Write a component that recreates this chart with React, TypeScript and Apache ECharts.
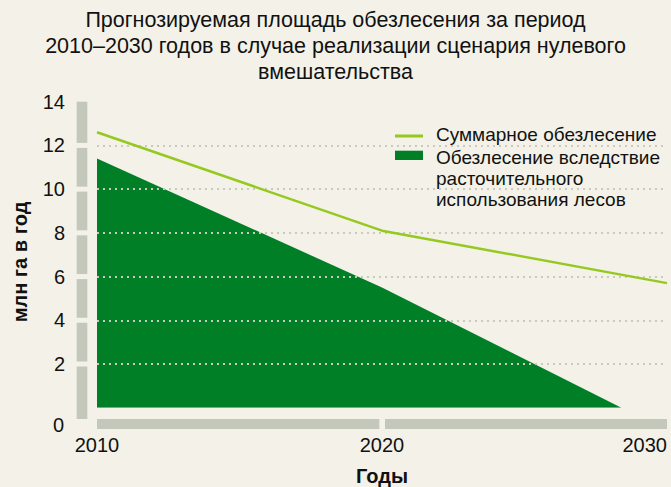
import React, { useEffect, useRef } from 'react';
import * as echarts from 'echarts';

const titleLines = [
  'Прогнозируемая площадь обезлесения за период',
  '2010–2030 годов в случае реализации сценария нулевого',
  'вмешательства',
];
const yAxisName = 'млн га в год';
const xAxisName = 'Годы';
const xTicks = [2010, 2020, 2030];
const yTicks = [0, 2, 4, 6, 8, 10, 12, 14];
const gridValues = [2, 4, 6, 8, 10, 12];
const totalName = 'Суммарное обезлесение';
const totalYears = [2010, 2020, 2030];
const totalValues = [12.6, 8.1, 5.7];
const wastefulName = 'Обезлесение вследствие\nрасточительного\nиспользования лесов';
const wastefulYears = [2010, 2020, 2028.4];
const wastefulValues = [11.4, 5.5, 0];

const BG = '#f3f1e8';
const GREEN = '#007f27';
const LIGHT = '#95c91f';
const BAR = '#c3c8ba';
const TEXT = '#111111';
const FONT = '"Liberation Sans", Arial, sans-serif';

export default function App() {
  const ref = useRef<HTMLDivElement>(null);
  useEffect(() => {
    document.body.style.margin = '0';
    const chart = echarts.init(ref.current!, null, { renderer: 'svg' });
    const option: any = {
      animation: false,
      backgroundColor: BG,
      textStyle: { fontFamily: FONT },
      grid: { left: 97, top: 101.7, width: 570, height: 306, containLabel: false, outerBoundsMode: 'none' },
      xAxis: {
        type: 'value',
        min: 2010,
        max: 2030,
        interval: 10,
        axisLine: { show: false },
        axisTick: { show: false },
        splitLine: { show: false },
        axisLabel: {
          margin: 27,
          fontSize: 20,
          color: TEXT,
          fontFamily: FONT,
          alignMaxLabel: 'right',
          formatter: (v: number) => String(v),
        },
        name: xAxisName,
        nameLocation: 'middle',
        nameGap: 58,
        nameTextStyle: { fontSize: 20, fontWeight: 'bold', color: TEXT, fontFamily: FONT },
      },
      yAxis: {
        type: 'value',
        min: 0,
        max: 14,
        interval: 2,
        axisLine: { show: false },
        axisTick: { show: false },
        splitLine: { show: false },
        axisLabel: {
          margin: 32,
          fontSize: 20,
          color: TEXT,
          fontFamily: FONT,
          formatter: (v: number) => (v === 0 ? '' : String(v)),
        },
      },
      series: [
        {
          name: wastefulName,
          type: 'line',
          data: wastefulYears.map((y, i) => [y, wastefulValues[i]]),
          symbol: 'none',
          lineStyle: { width: 0 },
          areaStyle: { color: GREEN, opacity: 1 },
          z: 2,
        },
        {
          name: totalName,
          type: 'line',
          data: totalYears.map((y, i) => [y, totalValues[i]]),
          symbol: 'none',
          lineStyle: { width: 2.5, color: LIGHT },
          z: 4,
          markLine: {
            silent: true,
            symbol: ['none', 'none'],
            label: { show: false },
            lineStyle: { color: '#c9c9c0', type: [2, 4], width: 2 },
            data: gridValues.map((v) => ({ yAxis: v })),
            z: 3,
          },
        },
      ],
    };
    chart.setOption(option);

    const px = (x: number, y: number) => chart.convertToPixel({ gridIndex: 0 }, [x, y]) as number[];
    const graphics: any[] = [];
    // title
    graphics.push({
      type: 'text',
      x: 335.5,
      y: 7,
      style: {
        text: titleLines.join('\n'),
        font: `21.5px ${FONT}`,
        fill: TEXT,
        align: 'center',
        verticalAlign: 'top',
        lineHeight: 26,
      },
    });
    // y axis name
    graphics.push({
      type: 'text',
      x: 20,
      y: 262,
      rotation: Math.PI / 2,
      style: { text: yAxisName, font: `bold 20px ${FONT}`, fill: TEXT, align: 'center', verticalAlign: 'middle' },
    });
    // y axis bar
    const barX = px(xTicks[0], 0)[0] - 20.3;
    const zeroY = px(xTicks[0], 0)[1];
    for (let i = 0; i < yTicks.length - 1; i++) {
      const top = px(xTicks[0], yTicks[i + 1])[1] + (i + 1 < yTicks.length - 1 ? 2.5 : 0);
      const bottom = i === 0 ? zeroY + 11.3 : px(xTicks[0], yTicks[i])[1] - 2.5;
      graphics.push({ type: 'rect', shape: { x: barX, y: top, width: 10.6, height: bottom - top }, style: { fill: BAR }, silent: true });
    }
    // x axis bar
    for (let i = 0; i < xTicks.length - 1; i++) {
      const left = px(xTicks[i], 0)[0] + (i > 0 ? 3 : 0);
      const right = px(xTicks[i + 1], 0)[0] - (i + 1 < xTicks.length - 1 ? 2.7 : 0);
      graphics.push({ type: 'rect', shape: { x: left, y: zeroY + 11.3, width: right - left, height: 10 }, style: { fill: BAR }, silent: true });
    }
    // zero label
    graphics.push({
      type: 'text',
      x: barX - 12.7,
      y: zeroY + 17,
      style: { text: String(yTicks[0]), font: `20px ${FONT}`, fill: TEXT, align: 'right', verticalAlign: 'middle' },
    });
    // legend
    graphics.push({ type: 'rect', shape: { x: 395, y: 134.5, width: 28, height: 3 }, style: { fill: LIGHT } });
    graphics.push({ type: 'rect', shape: { x: 395, y: 150.7, width: 28, height: 9.3 }, style: { fill: GREEN } });
    graphics.push({
      type: 'text', x: 436, y: 134.5,
      style: { text: totalName, font: `19px ${FONT}`, fill: TEXT, align: 'left', verticalAlign: 'middle' },
    });
    graphics.push({
      type: 'text', x: 436, y: 147,
      style: { text: wastefulName, font: `19px ${FONT}`, fill: TEXT, align: 'left', verticalAlign: 'top', lineHeight: 21 },
    });
    chart.setOption({ graphic: graphics });
    return () => chart.dispose();
  }, []);
  return <div ref={ref} style={{ position: 'fixed', left: 0, top: 0, width: 671, height: 487 }} />;
}
